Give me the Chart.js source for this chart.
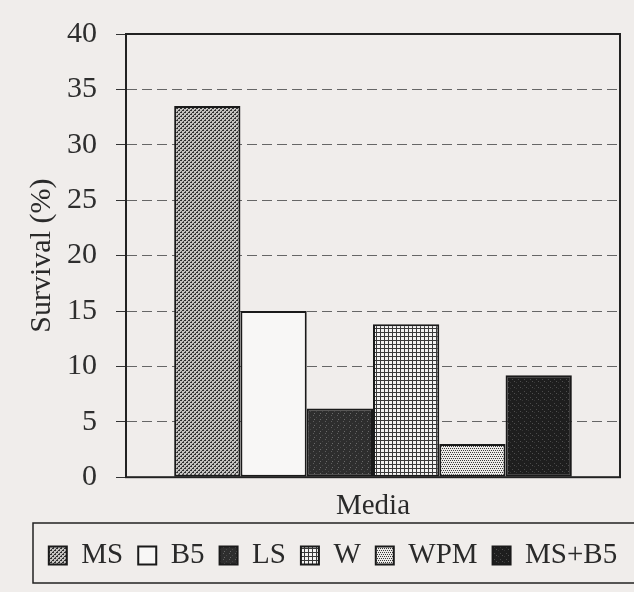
<!DOCTYPE html>
<html>
<head>
<meta charset="utf-8">
<script src="https://cdn.jsdelivr.net/npm/chart.js@4.4.1/dist/chart.umd.min.js"></script>
<style>
  html, body { margin: 0; padding: 0; background: #f0edeb; }
  #wrap { width: 634px; height: 592px; }
</style>
</head>
<body>
<div id="wrap"><canvas id="survivalChart" width="634" height="592"></canvas></div>
<script>
// data
const categories = ['Media'];
const media = ['MS', 'B5', 'LS', 'W', 'WPM', 'MS+B5'];
const survival = [33.5, 15.0, 6.2, 13.8, 3.0, 9.2];
const yTicks = [0, 5, 10, 15, 20, 25, 30, 35, 40];

// small hatch/dot fills like the printed figure
function makePattern(base, dots, size) {
    const c = document.createElement('canvas');
    c.width = size; c.height = size;
    const g = c.getContext('2d');
    g.fillStyle = base;
    g.fillRect(0, 0, size, size);
    dots.forEach(d => {
        g.fillStyle = d[2];
        g.fillRect(d[0], d[1], d[3] || 1, d[4] || 1);
    });
    return g.createPattern(c, 'repeat');
}

const fills = [
    // MS - dense brick-like dots, mid grey
    makePattern('#c4c2c0', [[0,0,'#2e2e2e'],[1,0,'#2e2e2e'],[3,1,'#4a4a4a'],
        [2,2,'#2e2e2e'],[3,2,'#2e2e2e'],[1,3,'#4a4a4a']], 4),
    // B5 - plain white
    '#f8f7f6',
    // LS - dark
    makePattern('#2e2e2e', [[1,1,'#5e5e5e'],[4,3,'#474747'],[2,5,'#6a6a6a']], 6),
    // W - small grid
    makePattern('#f4f3f2', [[0,0,'#3a3a3a',4,1],[0,0,'#3a3a3a',1,4]], 4),
    // WPM - lighter checker
    makePattern('#eceae8', [[0,0,'#3a3a3a'],[2,0,'#3a3a3a'],[1,2,'#3a3a3a'],[3,2,'#3a3a3a']], 4),
    // MS+B5 - near black
    makePattern('#1e1e1e', [[2,1,'#4a4a4a'],[0,4,'#363636'],[4,3,'#505050']], 6)
];

const datasets = media.map((name, i) => ({
    label: name,
    data: [survival[i]],
    backgroundColor: fills[i],
    borderColor: '#1a1a1a',
    borderWidth: 2,
    borderSkipped: false
}));

const paperPlugin = {
    id: 'paper',
    beforeDraw(chart) {
        const ctx = chart.ctx;
        ctx.save();
        ctx.fillStyle = '#f0edeb';
        ctx.fillRect(0, 0, chart.width, chart.height);
        ctx.restore();
    },
    afterDraw(chart) {
        const ctx = chart.ctx;
        const a = chart.chartArea;
        const lg = chart.legend;
        ctx.save();
        ctx.strokeStyle = '#222';
        ctx.lineWidth = 2;
        // plot frame
        ctx.strokeRect(a.left, a.top, a.right - a.left, a.bottom - a.top);
        // box around the legend, a bit taller than the legend itself
        ctx.lineWidth = 1.5;
        ctx.strokeRect(lg.left + 1, lg.top - 3, lg.width + 4, lg.height + 6);
        ctx.restore();
    }
};

const ctx = document.getElementById('survivalChart').getContext('2d');
new Chart(ctx, {
    type: 'bar',
    data: {
        labels: categories,
        datasets: datasets
    },
    options: {
        responsive: false,
        animation: false,
        layout: { padding: { left: 32, right: 0, top: 34, bottom: 12 } },
        datasets: {
            bar: { categoryPercentage: 0.805, barPercentage: 1.0 }
        },
        scales: {
            x: {
                grid: { display: false },
                border: { display: false },
                ticks: { display: false },
                title: {
                    display: true,
                    text: 'Media',
                    color: '#2a2a2a',
                    font: { family: 'Liberation Serif', size: 29 },
                    padding: { top: 4, bottom: 2 }
                }
            },
            y: {
                min: 0,
                max: 40,
                afterBuildTicks(scale) {
                    scale.ticks = yTicks.map(v => ({ value: v }));
                },
                afterFit(scale) { scale.width = 94; },
                grid: {
                    color: '#666',
                    lineWidth: 1,
                    tickLength: 10,
                    tickColor: '#333',
                    tickBorderDash: []
                },
                border: { display: true, color: '#222', width: 2, dash: [10, 5] },
                ticks: {
                    color: '#2e2e2e',
                    padding: 19,
                    font: { family: 'Liberation Serif', size: 30, lineHeight: 1 }
                },
                title: {
                    display: true,
                    text: 'Survival (%)',
                    color: '#2a2a2a',
                    font: { family: 'Liberation Serif', size: 30 },
                    padding: { top: -8, bottom: 0 }
                }
            },
            yRight: {
                position: 'right',
                display: true,
                grid: { display: false },
                border: { display: false },
                ticks: { display: false },
                afterFit(scale) { scale.width = 14; }
            }
        },
        plugins: {
            legend: {
                position: 'bottom',
                labels: {
                    color: '#2a2a2a',
                    boxWidth: 18,
                    boxHeight: 18,
                    padding: 15,
                    font: { family: 'Liberation Serif', size: 29 }
                }
            },
            tooltip: { enabled: false }
        }
    },
    plugins: [paperPlugin]
});
</script>
</body>
</html>
